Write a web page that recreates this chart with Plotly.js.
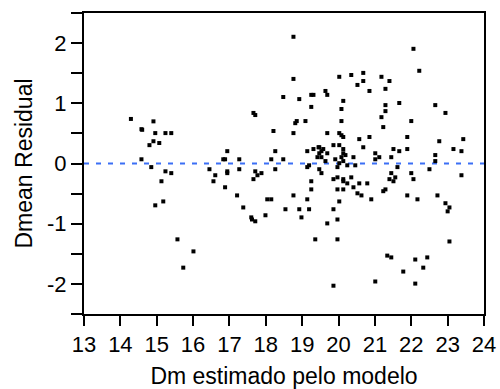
<!DOCTYPE html>
<html>
<head>
<meta charset="utf-8">
<script src="https://cdn.plot.ly/plotly-3.0.1.min.js"></script>
<style>html,body{margin:0;padding:0;background:#fff;}#chart{width:500px;height:389px;}</style>
</head>
<body>
<div id="chart"></div>
<script>
// Predicted Dm (x) and mean residual (y)
const dmEstimado = [
  14.29,14.58,14.60,14.91,14.96,15.24,15.40,14.80,14.91,15.07,14.58,14.85,15.24,15.40,15.13,14.96,15.18,15.57,16.01,15.73,
  16.45,16.61,16.56,
  18.76,18.76,18.48,18.92,19.25,19.31,19.25,17.66,17.71,18.85,18.81,19.09,18.21,18.76,16.94,18.26,19.14,19.31,19.45,
  16.83,16.88,17.27,18.15,18.48,19.42,16.94,16.94,17.27,17.71,17.77,17.88,17.66,18.26,19.14,19.19,19.47,
  16.88,17.21,17.38,18.04,18.15,17.60,17.62,17.71,17.99,18.54,18.76,18.92,18.98,19.14,19.19,19.25,19.25,19.36,
  20.02,20.35,20.68,20.68,20.52,20.85,21.18,21.40,21.29,19.64,19.69,20.13,20.08,20.08,21.29,21.29,21.18,21.23,21.67,
  19.69,20.02,20.08,20.13,20.57,20.85,20.68,19.47,19.58,19.53,19.47,19.53,19.64,19.69,19.86,20.02,20.13,20.13,20.19,
  20.08,19.91,20.41,20.13,20.24,20.46,20.02,19.97,21.01,21.12,21.01,21.51,21.67,21.45,21.62,21.45,21.40,21.51,21.56,
  19.53,19.86,19.97,20.13,20.13,20.24,20.35,19.97,20.13,20.41,20.57,20.52,20.63,20.79,20.90,21.23,21.29,20.02,19.86,
  19.97,19.69,19.97,21.34,21.45,19.86,21.01,
  22.06,22.22,22.66,22.94,22.00,21.89,22.77,23.43,23.16,23.38,21.89,22.66,22.66,22.50,22.00,22.06,23.38,
  21.89,22.17,22.72,22.94,23.05,23.00,23.05,22.11,22.44,22.33,21.78,22.11
];
const dmeanResidual = [
  0.74,0.57,0.56,0.70,0.505,0.505,0.505,0.305,0.37,0.34,0.07,-0.06,-0.13,-0.16,-0.295,-0.695,-0.63,-1.26,-1.46,-1.73,
  -0.095,-0.195,-0.295,
  2.105,1.405,1.105,1.07,1.14,1.14,0.94,0.84,0.805,0.705,0.67,0.705,0.54,0.505,0.205,0.205,0.205,0.24,0.27,
  0.07,0.07,0.07,0.07,0.07,0.105,-0.13,-0.16,-0.095,-0.13,-0.195,-0.16,-0.26,-0.095,-0.06,-0.03,-0.095,
  -0.395,-0.53,-0.73,-0.595,-0.595,-0.895,-0.93,-0.96,-0.86,-0.76,-0.53,-0.76,-0.895,-0.595,-0.76,-0.295,-0.43,-1.26,
  1.44,1.47,1.505,1.37,1.305,1.205,1.44,1.37,1.24,1.205,1.14,1.04,0.905,0.705,0.97,0.87,0.77,0.605,1.005,
  0.505,0.505,0.47,0.44,0.405,0.44,0.27,0.27,0.24,0.205,0.17,0.105,0.04,0.17,0.305,0.305,0.24,0.17,0.14,
  0.105,0.07,0.105,0.04,-0.03,-0.03,0.005,-0.06,0.17,0.105,0.07,0.24,0.205,0.105,-0.06,-0.16,-0.26,-0.295,-0.23,
  -0.16,-0.26,-0.23,-0.26,-0.295,-0.33,-0.23,-0.43,-0.43,-0.395,-0.33,-0.495,-0.53,-0.33,-0.595,-0.46,-0.43,-0.63,-0.76,
  -0.93,-0.995,-1.26,-1.53,-1.56,-2.03,-1.96,
  1.905,1.54,0.97,0.84,0.705,0.44,0.37,0.405,0.24,0.205,0.24,0.14,0.04,-0.095,-0.16,-0.26,-0.195,
  -0.53,-0.595,-0.53,-0.66,-0.73,-0.795,-1.295,-1.595,-1.56,-1.73,-1.795,-1.995
];
const xTickVals = [13,14,15,16,17,18,19,20,21,22,23,24];
const yTickVals = [-2.5,-2,-1.5,-1,-0.5,0,0.5,1,1.5,2,2.5];
const yTickText = ['','-2','','-1','','0','','1','','2',''];
const refLineY = 0;
const xTitle = 'Dm estimado pelo modelo';
const yTitle = 'Dmean Residual';

const tickFont = {family: 'Liberation Sans, Arial, sans-serif', size: 22, color: '#000'};
const titleFont = {family: 'Liberation Sans, Arial, sans-serif', size: 23, color: '#000'};

const traces = [{
  x: dmEstimado, y: dmeanResidual, type: 'scatter', mode: 'markers',
  marker: {symbol: 'square', size: 4, color: '#000'},
  hoverinfo: 'x+y', showlegend: false
}];

const layout = {
  width: 500, height: 389,
  margin: {l: 84, r: 16, t: 13, b: 75},
  paper_bgcolor: '#fff', plot_bgcolor: '#fff',
  showlegend: false,
  xaxis: {
    range: [13, 24], tickvals: xTickVals, ticks: 'outside', ticklen: 10, tickwidth: 2, tickcolor: '#000',
    showline: true, linewidth: 2, linecolor: '#000', mirror: true,
    showgrid: false, zeroline: false, tickfont: tickFont, automargin: false,
    title: {text: xTitle, font: titleFont, standoff: 12}
  },
  yaxis: {
    range: [-2.5, 2.5], tickvals: yTickVals, ticktext: yTickText, ticks: 'outside', ticklen: 11, tickwidth: 2, tickcolor: '#000',
    showline: true, linewidth: 2, linecolor: '#000', mirror: true,
    showgrid: false, zeroline: false, tickfont: tickFont, automargin: false,
    title: {text: yTitle, font: titleFont, standoff: 8}
  },
  shapes: [{
    type: 'line', xref: 'paper', x0: 0, x1: 1, yref: 'y', y0: refLineY, y1: refLineY,
    line: {color: '#3b6ff5', width: 2, dash: '5px,7px'}, layer: 'below'
  }]
};

Plotly.newPlot('chart', traces, layout, {displayModeBar: false, staticPlot: true});
</script>
</body>
</html>
